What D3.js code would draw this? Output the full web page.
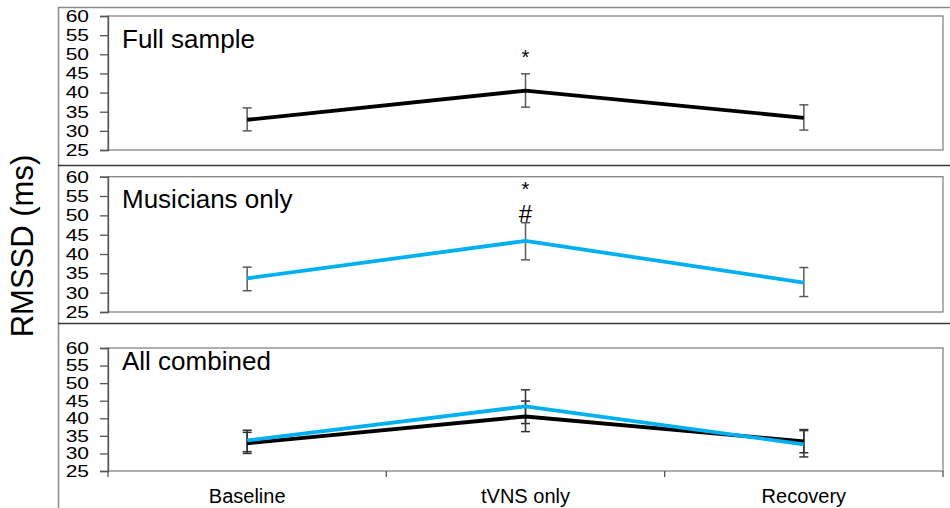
<!DOCTYPE html>
<html>
<head>
<meta charset="utf-8">
<script src="https://cdn.jsdelivr.net/npm/d3@7"></script>
<style>
  html, body { margin: 0; padding: 0; background: #fff; }
  svg { display: block; font-family: "Liberation Sans", Arial, sans-serif; }
</style>
</head>
<body>
<svg id="chart" width="950" height="508"></svg>
<script>
// ---- data ----
const conditions = ["Baseline", "tVNS only", "Recovery"];
const fullMean = [32.9, 40.5, 33.4];
const fullLow  = [30.0, 36.2, 30.2];
const fullHigh = [36.0, 44.9, 36.8];
const musMean  = [33.7, 43.4, 32.6];
const musLow   = [30.5, 38.5, 29.0];
const musHigh  = [36.6, 48.1, 36.5];
const yTicks = [25, 30, 35, 40, 45, 50, 55, 60];
const panelTitles = ["Full sample", "Musicians only", "All combined"];
const yAxisTitle = "RMSSD (ms)";

const BLACK = "#000000", BLUE = "#00B0F0";

const full = conditions.map((c, i) => ({ c, m: fullMean[i], lo: fullLow[i], hi: fullHigh[i] }));
const mus  = conditions.map((c, i) => ({ c, m: musMean[i],  lo: musLow[i],  hi: musHigh[i] }));

const svg = d3.select("#chart");

// outer frame
svg.append("line").attr("x1", 58).attr("x2", 950).attr("y1", 7.5).attr("y2", 7.5)
  .attr("stroke", "#8c8c8c").attr("stroke-width", 1.5);
svg.append("line").attr("x1", 58.5).attr("x2", 58.5).attr("y1", 7).attr("y2", 508)
  .attr("stroke", "#8c8c8c").attr("stroke-width", 1.5);
[165.5, 323.5].forEach(y => svg.append("line").attr("x1", 58).attr("x2", 950)
  .attr("y1", y).attr("y2", y).attr("stroke", "#3a3a3a").attr("stroke-width", 1.5));

// y-axis title
svg.append("text")
  .attr("transform", "translate(33,246) rotate(-90)")
  .attr("text-anchor", "middle")
  .attr("font-size", 31)
  .attr("fill", "#000")
  .text(yAxisTitle);

const x = d3.scalePoint().domain(conditions).range([108, 943]).padding(0.5);
const xBand = d3.scaleBand().domain(conditions).range([108, 943]);

const panels = [
  { top: 16, bottom: 150, series: [{ d: full, color: BLACK }], title: panelTitles[0], titleY: 47.5, errColor: "#5a5a5a" },
  { top: 176.7, bottom: 312, series: [{ d: mus, color: BLUE }], title: panelTitles[1], titleY: 207.5, errColor: "#5a5a5a" },
  { top: 348, bottom: 471, series: [{ d: full, color: BLACK }, { d: mus, color: BLUE }], title: panelTitles[2], titleY: 370, errColor: "#333333", xaxis: true }
];

panels.forEach((p, pi) => {
  const y = d3.scaleLinear().domain([25, 60]).range([p.bottom, p.top]);
  const g = svg.append("g");

  // plot box
  g.append("rect")
    .attr("x", 108).attr("y", p.top)
    .attr("width", 943 - 108).attr("height", p.bottom - p.top)
    .attr("fill", "none").attr("stroke", "#858585").attr("stroke-width", 1.3);

  // y axis
  const ya = g.append("g").attr("transform", "translate(108,0)")
    .call(d3.axisLeft(y).tickValues(yTicks).tickSize(8).tickPadding(11).tickFormat(d3.format("d")));
  ya.select(".domain").attr("stroke", "#555").attr("stroke-width", 1.3);
  ya.selectAll(".tick line").attr("stroke", "#555").attr("stroke-width", 1.3);
  ya.selectAll(".tick text")
    .attr("font-size", 21)
    .attr("font-family", "Liberation Sans, Arial, sans-serif")
    .attr("fill", "#000")
    .attr("transform", "scale(1,0.8)");

  // x axis (bottom panel only)
  if (p.xaxis) {
    const xa = g.append("g").attr("transform", `translate(0,${p.bottom})`);
    const bounds = conditions.map(c => xBand(c)).concat([xBand.range()[1]]);
    xa.selectAll("line.xt").data(bounds).join("line")
      .attr("x1", d => d).attr("x2", d => d)
      .attr("y1", 0).attr("y2", 6)
      .attr("stroke", "#555").attr("stroke-width", 1.3);
    xa.selectAll("text").data(conditions).join("text")
      .attr("x", d => x(d)).attr("y", 32)
      .attr("text-anchor", "middle")
      .attr("font-size", 20)
      .attr("fill", "#000")
      .text(d => d);
  }

  // title
  g.append("text").attr("x", 122).attr("y", p.titleY)
    .attr("font-size", 26).attr("fill", "#000").text(p.title);

  const line = d3.line().x(d => x(d.c)).y(d => y(d.m));

  // error bars
  p.series.forEach(s => {
    const eb = g.append("g");
    eb.selectAll("line.v").data(s.d).join("line")
      .attr("x1", d => x(d.c)).attr("x2", d => x(d.c))
      .attr("y1", d => y(d.lo)).attr("y2", d => y(d.hi))
      .attr("stroke", p.errColor).attr("stroke-width", 1.5);
    ["lo", "hi"].forEach(k => {
      eb.selectAll("line.c" + k).data(s.d).join("line")
        .attr("x1", d => x(d.c) - 4.5).attr("x2", d => x(d.c) + 4.5)
        .attr("y1", d => y(d[k])).attr("y2", d => y(d[k]))
        .attr("stroke", p.errColor).attr("stroke-width", 1.5);
    });
  });

  // lines
  p.series.forEach(s => {
    g.append("path").datum(s.d)
      .attr("d", line)
      .attr("fill", "none")
      .attr("stroke", s.color)
      .attr("stroke-width", 3.8)
      .attr("stroke-linejoin", "miter");
  });

  // significance markers
  if (pi === 0) {
    g.append("text").attr("x", x("tVNS only")).attr("y", 64)
      .attr("text-anchor", "middle").attr("font-size", 20).text("*");
  }
  if (pi === 1) {
    g.append("text").attr("x", x("tVNS only")).attr("y", 196)
      .attr("text-anchor", "middle").attr("font-size", 20).text("*");
    g.append("text").attr("x", x("tVNS only")).attr("y", 222)
      .attr("text-anchor", "middle").attr("font-size", 24).text("#");
  }
});
</script>
</body>
</html>
